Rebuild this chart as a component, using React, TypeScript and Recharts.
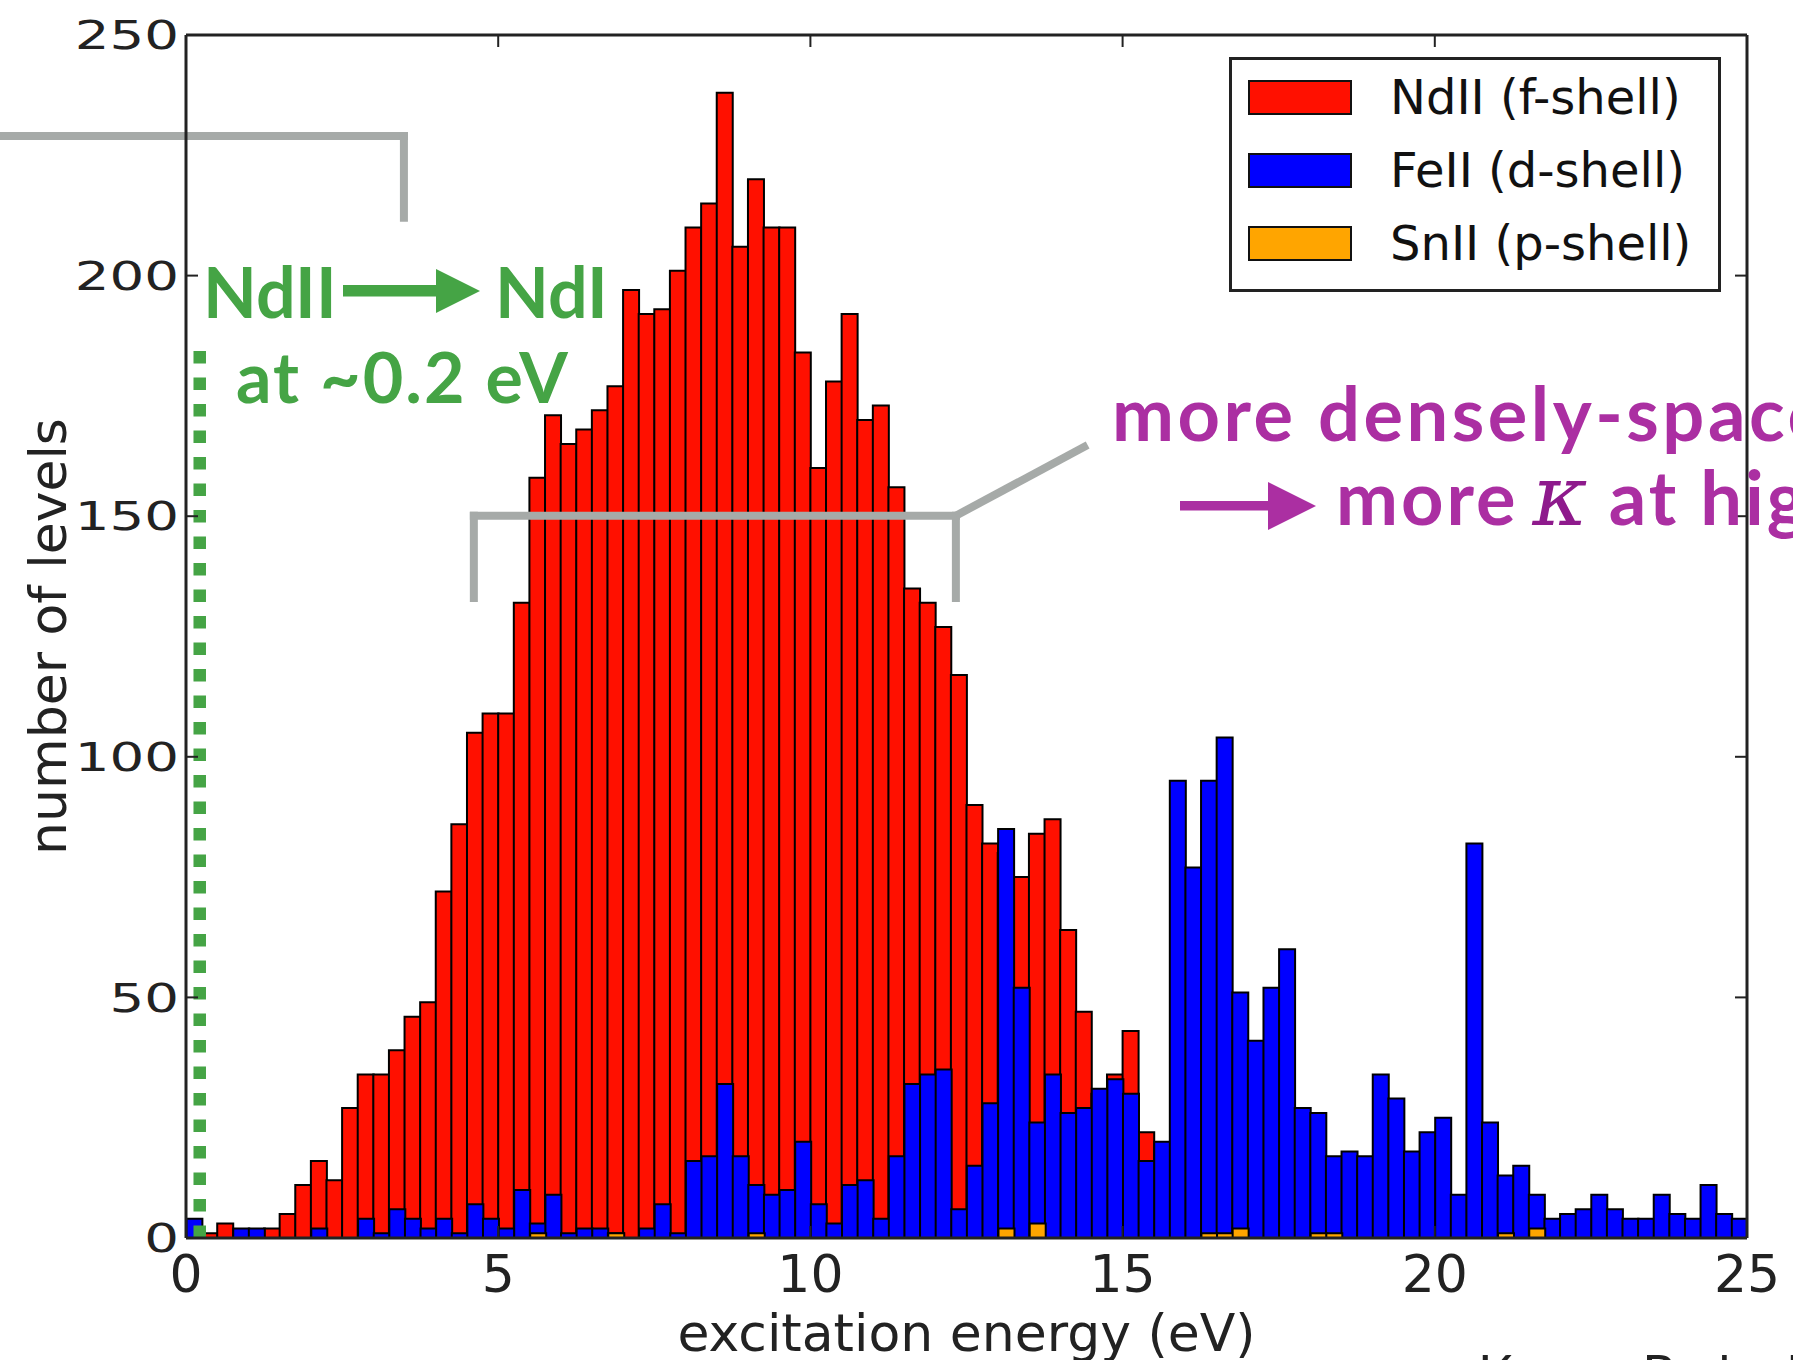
import React from "react";
import { BarChart, Bar, XAxis, YAxis, ReferenceLine, Legend, Label } from "recharts";

// 100 bins of 0.25 eV from 0 to 25 eV
const BIN_WIDTH = 0.25;

const ndII = [
  0, 1, 3, 0, 0, 2, 5, 11, 16, 12,
  27, 34, 34, 39, 46, 49, 72, 86, 105, 109,
  109, 132, 158, 171, 165, 168, 172, 177, 197, 192,
  193, 201, 210, 215, 238, 206, 220, 210, 210, 184,
  160, 178, 192, 170, 173, 156, 135, 132, 127, 117,
  90, 82, 80, 75, 84, 87, 64, 47, 30, 34,
  43, 22, 0, 0, 0, 0, 0, 0, 0, 0,
  0, 0, 0, 0, 0, 0, 0, 0, 0, 0,
  0, 0, 0, 0, 0, 0, 0, 0, 0, 0,
  0, 0, 0, 0, 0, 0, 0, 0, 0, 0,
];

const feII = [
  4, 0, 0, 2, 2, 0, 0, 0, 2, 0,
  0, 4, 1, 6, 4, 2, 4, 1, 7, 4,
  2, 10, 3, 9, 1, 2, 2, 1, 0, 2,
  7, 1, 16, 17, 32, 17, 11, 9, 10, 20,
  7, 3, 11, 12, 4, 17, 32, 34, 35, 6,
  15, 28, 85, 52, 24, 34, 26, 27, 31, 33,
  30, 16, 20, 95, 77, 95, 104, 51, 41, 52,
  60, 27, 26, 17, 18, 17, 34, 29, 18, 22,
  25, 9, 82, 24, 13, 15, 9, 4, 5, 6,
  9, 6, 4, 4, 9, 5, 4, 11, 5, 4,
];

const snII = [
  0, 0, 0, 0, 0, 0, 0, 0, 0, 0,
  0, 0, 0, 0, 0, 0, 0, 0, 0, 0,
  0, 0, 1, 0, 0, 0, 0, 1, 0, 0,
  0, 0, 0, 0, 0, 0, 1, 0, 0, 0,
  0, 0, 0, 0, 0, 0, 0, 0, 0, 0,
  0, 0, 2, 0, 3, 0, 0, 0, 0, 0,
  0, 0, 0, 0, 0, 1, 1, 2, 0, 0,
  0, 0, 1, 1, 0, 0, 0, 0, 0, 0,
  0, 0, 0, 0, 1, 0, 2, 0, 0, 0,
  0, 0, 0, 0, 0, 0, 0, 0, 0, 0,
];

const seriesNames = ["NdII (f-shell)", "FeII (d-shell)", "SnII (p-shell)"];
const xTicks = [0, 5, 10, 15, 20, 25];
const yTicks = [0, 50, 100, 150, 200, 250];

const data = ndII.map((v, i) => ({
  x: (i + 0.5) * BIN_WIDTH,
  nd: v,
  fe: feII[i],
  sn: snII[i],
}));

// annotation strokes, in data units
const GRAY = "#a6aaa8";
const GREEN = "#45a445";
const PURPLE = "#ab2fa2";
const bracketSegments = [
  [{ x: -3.1, y: 229 }, { x: 3.49, y: 229 }],
  [{ x: 3.49, y: 229 }, { x: 3.49, y: 212 }],
  [{ x: 4.61, y: 133 }, { x: 4.61, y: 150.1 }],
  [{ x: 4.61, y: 150.1 }, { x: 12.33, y: 150.1 }],
  [{ x: 12.33, y: 150.1 }, { x: 12.33, y: 133 }],
];
const diagonal = [{ x: 12.33, y: 150.1 }, { x: 14.44, y: 164.8 }];
const dottedLine = [{ x: 0.22, y: 0 }, { x: 0.22, y: 185 }];

const AXIS = "#222";
const FONT = "DejaVu Sans";
const PLOT_W = 1561;
const PLOT_H = 1203;

// inward ticks on both bottom and top frame edges
const BottomTick = ({ x, y, payload }: any) => {
  const inner = payload.value !== 0 && payload.value !== 25;
  return (
    <g>
      <line x1={x} x2={x} y1={y} y2={y - 12} stroke={AXIS} strokeWidth={2} />
      {inner && <line x1={x} x2={x} y1={y - PLOT_H} y2={y - PLOT_H + 12} stroke={AXIS} strokeWidth={2} />}
      <text x={x} y={y + 54} textAnchor="middle" fontSize={52} fontFamily={FONT} fill={AXIS}>
        {payload.value}
      </text>
    </g>
  );
};

// inward ticks on both left and right frame edges
const LeftTick = ({ x, y, payload }: any) => {
  const inner = payload.value !== 0 && payload.value !== 250;
  return (
    <g>
      <line x1={x} x2={x + 12} y1={y} y2={y} stroke={AXIS} strokeWidth={2} />
      {inner && <line x1={x + PLOT_W} x2={x + PLOT_W - 12} y1={y} y2={y} stroke={AXIS} strokeWidth={2} />}
      <g transform={`translate(${x - 7}, ${y}) scale(1.05, 0.75)`}>
        <text x={0} y={19} textAnchor="end" fontSize={52} fontFamily={FONT} fill={AXIS}>
          {payload.value}
        </text>
      </g>
    </g>
  );
};

const XLabel = () => (
  <text x={966.5} y={1351} textAnchor="middle" fontSize={52} fontFamily={FONT} fill={AXIS}>
    excitation energy (eV)
  </text>
);

const YLabel = () => (
  <text x={66} y={636.5} transform="rotate(-90 66 636.5)" textAnchor="middle" fontSize={52} fontFamily={FONT} fill={AXIS}>
    number of levels
  </text>
);

const LegendBox = (props: any) => {
  const items = [...(props.payload || [])].sort(
    (a: any, b: any) => seriesNames.indexOf(a.value) - seriesNames.indexOf(b.value)
  );
  return (
    <div
      style={{
        width: 492,
        height: 235,
        border: "3px solid #222",
        boxSizing: "border-box",
        background: "#fff",
        position: "relative",
      }}
    >
      {items.map((it: any, i: number) => (
        <div
          key={i}
          style={{ position: "absolute", left: 16, top: 20 + i * 73, display: "flex", alignItems: "center" }}
        >
          <div style={{ width: 100, height: 31, background: it.color, border: "2px solid #111" }} />
          <span
            style={{
              marginLeft: 38,
              fontSize: 48,
              lineHeight: "35px",
              fontFamily: FONT,
              color: "#111",
              whiteSpace: "nowrap",
            }}
          >
            {it.value}
          </span>
        </div>
      ))}
    </div>
  );
};

const axisLine = { stroke: AXIS, strokeWidth: 3 };

export default function App() {
  return (
    <div
      style={{
        position: "fixed",
        left: 0,
        top: 0,
        width: 1793,
        height: 1360,
        overflow: "hidden",
        background: "#fff",
        fontFamily: FONT,
      }}
    >
      <BarChart
        width={1793}
        height={1360}
        data={data}
        margin={{ top: 34, right: 45, bottom: 22, left: 0 }}
        barGap="-100%"
        barCategoryGap={0}
      >
        <XAxis
          dataKey="x"
          type="number"
          domain={[0, 25]}
          ticks={xTicks}
          allowDataOverflow
          interval={0}
          height={100}
          tickSize={0}
          tickMargin={0}
          tickLine={false}
          axisLine={axisLine}
          tick={<BottomTick />}
        >
          <Label content={<XLabel />} />
        </XAxis>
        <XAxis
          xAxisId="top"
          orientation="top"
          type="number"
          domain={[0, 25]}
          allowDataOverflow
          height={1}
          tickLine={false}
          tick={false}
          axisLine={axisLine}
        />
        <YAxis
          type="number"
          domain={[0, 250]}
          ticks={yTicks}
          allowDataOverflow
          interval={0}
          width={186}
          tickSize={0}
          tickMargin={0}
          tickLine={false}
          axisLine={axisLine}
          tick={<LeftTick />}
        >
          <Label content={<YLabel />} />
        </YAxis>
        <YAxis
          yAxisId="right"
          orientation="right"
          type="number"
          domain={[0, 250]}
          allowDataOverflow
          width={1}
          tickLine={false}
          tick={false}
          axisLine={axisLine}
        />
        <Legend
          layout="horizontal"
          verticalAlign="middle"
          align="center"
          wrapperStyle={{ left: 1229, top: 57, width: 492, height: 235 }}
          content={<LegendBox />}
        />
        <Bar dataKey="nd" name={seriesNames[0]} fill="#ff1000" stroke="#000" strokeWidth={2} isAnimationActive={false} />
        <Bar dataKey="fe" name={seriesNames[1]} fill="#0000ff" stroke="#000" strokeWidth={2} isAnimationActive={false} />
        <Bar dataKey="sn" name={seriesNames[2]} fill="#ffa500" stroke="#000" strokeWidth={2} isAnimationActive={false} />
        {bracketSegments.map((seg, i) => (
          <ReferenceLine
            key={i}
            segment={seg}
            ifOverflow="visible"
            stroke={GRAY}
            strokeWidth={8}
            strokeLinecap="square"
          />
        ))}
        <ReferenceLine segment={diagonal} ifOverflow="visible" stroke={GRAY} strokeWidth={8} />
        <ReferenceLine
          segment={dottedLine}
          ifOverflow="visible"
          stroke={GREEN}
          strokeWidth={12.5}
          strokeDasharray="12.5 14"
        />
      </BarChart>

      <svg
        width={1793}
        height={1360}
        style={{ position: "absolute", left: 0, top: 0, pointerEvents: "none" }}
      >
        <g fill={GREEN} fontFamily="Lato" fontWeight={700} fontSize={70}>
          <text x={203} y={318}>NdII</text>
          <rect x={343} y={285} width={96} height={11.5} />
          <polygon points="436,269 480,291 436,313" />
          <text x={495} y={318}>NdI</text>
          <text x={236} y={403} letterSpacing={2}>at ~0.2 eV</text>
        </g>
        <g fill={PURPLE} fontFamily="Lato" fontWeight={700} fontSize={74}>
          <text x={1112} y={441} letterSpacing={3.5}>more densely-spaced levels</text>
          <rect x={1180} y={501} width={92} height={9.5} />
          <polygon points="1268,482 1316,506 1268,530" />
          <text x={1336} y={525} letterSpacing={3}>
            more
            <tspan dx={14} fontFamily="DejaVu Serif" fontStyle="italic" fontWeight={400} fontSize={84} fill="#8e1a8c">
              κ
            </tspan>
            <tspan dx={18}>at higher T</tspan>
          </text>
        </g>
        <text x={1478} y={1393} fontFamily="Lato" fontSize={52} fill="#222">
          Kasen, Badnell &amp; Barnes
        </text>
      </svg>
    </div>
  );
}
